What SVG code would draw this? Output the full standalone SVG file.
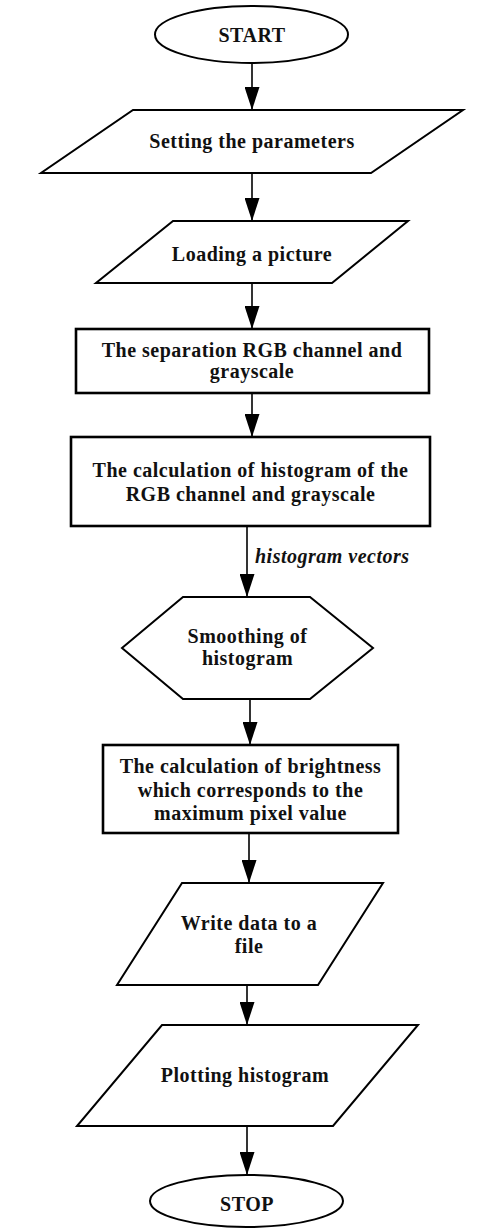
<svg xmlns="http://www.w3.org/2000/svg" width="486" height="1229" viewBox="0 0 486 1229">
<style>
.shape{fill:#fff;stroke:#000;stroke-width:2}
.box{fill:#fff;stroke:#000;stroke-width:2.6}
.t{font-family:"Liberation Serif","Times New Roman",serif;font-weight:bold;font-size:20px;fill:#111;text-anchor:middle;letter-spacing:0.5px}
.lbl{font-family:"Liberation Serif","Times New Roman",serif;font-weight:bold;font-style:italic;font-size:20px;fill:#111;letter-spacing:0.5px}
.c{stroke:#000;stroke-width:1.6;fill:none;marker-end:url(#ah)}
</style>
<defs>
<marker id="ah" markerUnits="userSpaceOnUse" markerWidth="23" markerHeight="15" refX="23" refY="7.5" orient="auto">
<path d="M0,0 L23,7.5 L0,15 z" fill="#000"/>
</marker>
</defs>
<rect width="486" height="1229" fill="#fff"/>
<g id="connectors">
<line class="c" x1="252" y1="63" x2="252" y2="110"/>
<line class="c" x1="252" y1="173" x2="252" y2="221"/>
<line class="c" x1="252" y1="283" x2="252" y2="329"/>
<line class="c" x1="252" y1="393" x2="252" y2="437"/>
<line class="c" x1="247" y1="526" x2="247" y2="597"/>
<text class="lbl" x="255" y="563">histogram vectors</text>
<line class="c" x1="250" y1="699" x2="250" y2="745"/>
<line class="c" x1="249" y1="833" x2="249" y2="883"/>
<line class="c" x1="247" y1="985" x2="247" y2="1025"/>
<line class="c" x1="247" y1="1126" x2="247" y2="1175"/>
</g>
<g id="start">
<ellipse class="shape" cx="251.5" cy="34.5" rx="96.5" ry="28.5"/>
<text class="t" x="252" y="42">START</text>
</g>
<g id="set-params">
<polygon class="shape" points="133,110 463,110 371,173 41,173"/>
<text class="t" x="252" y="148">Setting the parameters</text>
</g>
<g id="load-picture">
<polygon class="shape" points="173,221 408,221 332,283 96,283"/>
<text class="t" x="252" y="261">Loading a picture</text>
</g>
<g id="separation">
<rect class="box" x="76" y="329" width="353" height="64"/>
<text class="t" x="252" y="357">The separation RGB channel and</text>
<text class="t" x="252" y="378">grayscale</text>
</g>
<g id="calc-histogram">
<rect class="box" x="71" y="437" width="359" height="89"/>
<text class="t" x="250.5" y="477">The calculation of histogram of the</text>
<text class="t" x="250.5" y="501">RGB channel and grayscale</text>
</g>
<g id="smoothing">
<polygon class="shape" points="183,597 310,597 373,648 310,699 183,699 122,648"/>
<text class="t" x="247.5" y="643">Smoothing of</text>
<text class="t" x="247.5" y="665">histogram</text>
</g>
<g id="calc-brightness">
<rect class="box" x="103" y="745" width="295" height="88"/>
<text class="t" x="250.5" y="773">The calculation of brightness</text>
<text class="t" x="250.5" y="797">which corresponds to the</text>
<text class="t" x="250.5" y="820">maximum pixel value</text>
</g>
<g id="write-data">
<polygon class="shape" points="182,883 383,883 318,985 117,985"/>
<text class="t" x="249" y="930">Write data to a</text>
<text class="t" x="249" y="953">file</text>
</g>
<g id="plotting">
<polygon class="shape" points="162,1025 418,1025 333,1126 77,1126"/>
<text class="t" x="245" y="1082">Plotting histogram</text>
</g>
<g id="stop">
<ellipse class="shape" cx="246.5" cy="1201" rx="96.5" ry="26"/>
<text class="t" x="247" y="1211">STOP</text>
</g>
</svg>
